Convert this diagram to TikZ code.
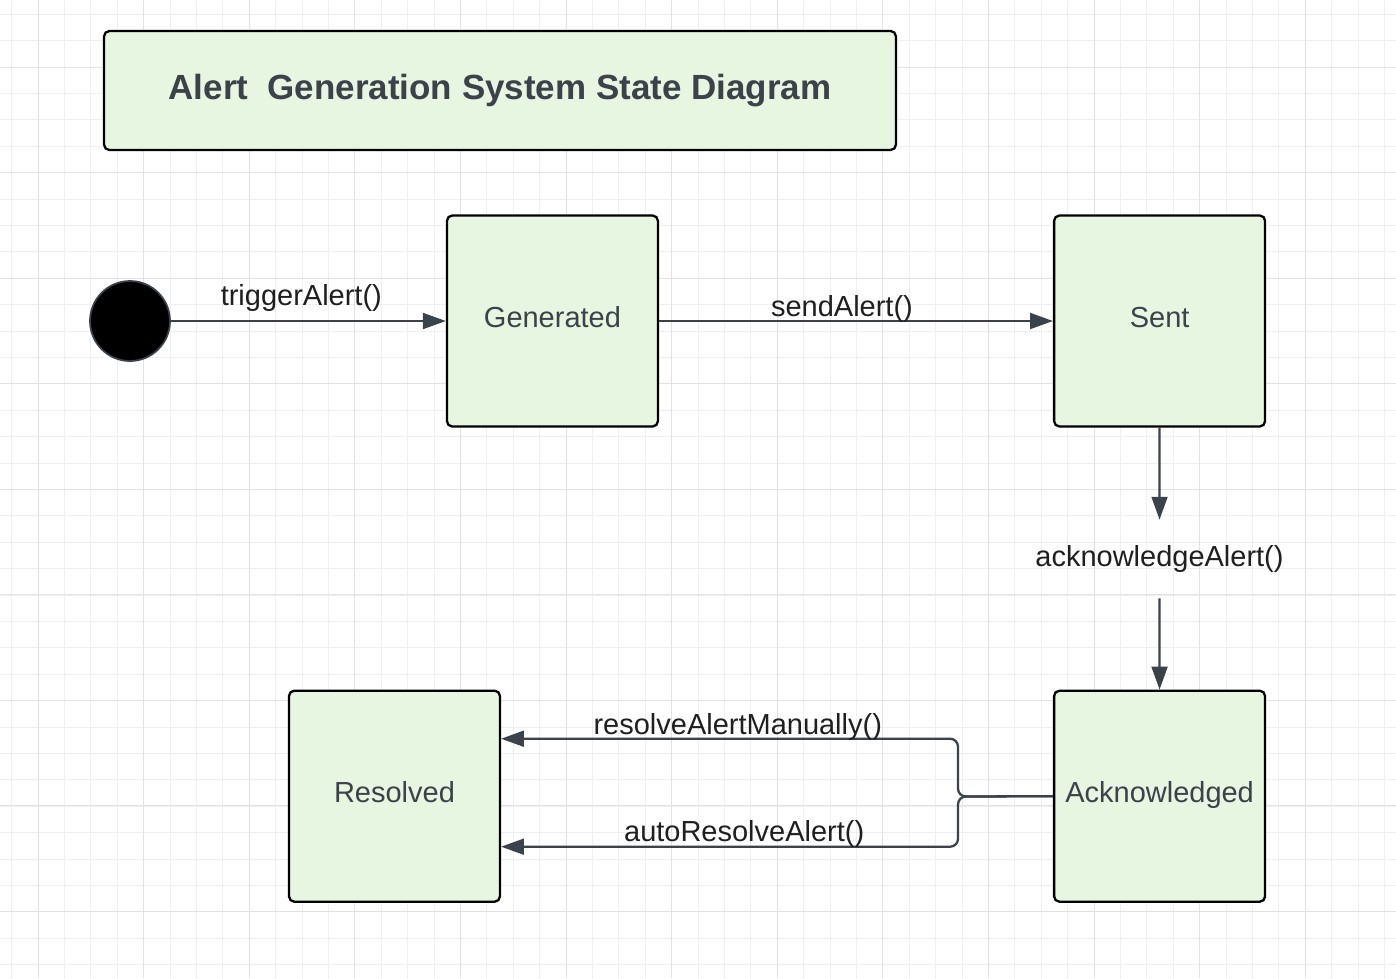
\documentclass[tikz,border=0pt]{standalone}
\usepackage{fontspec}
\setmainfont{Liberation Sans}
\usepackage{tikz}
\usetikzlibrary{arrows.meta, positioning, calc}
\definecolor{stategreen}{HTML}{E6F6E1}
\definecolor{inkgray}{HTML}{3C4249}
\definecolor{gridminor}{HTML}{EFEFEF}
\definecolor{gridmajor}{HTML}{E2E2E2}

\begin{document}
\begin{tikzpicture}[x=0.02cm, y=-0.02cm,
        state/.style={draw=black, line width=1.3pt, fill=stategreen, rounded corners=3pt,
            minimum width=4.22cm, minimum height=4.22cm, inner sep=0pt, text=inkgray,
            text height=12pt, text depth=5pt, font=\fontsize{16.5}{19}\selectfont},
        flow/.style={draw=inkgray, line width=1.3pt, -{Triangle[length=13pt,width=9pt]}},
        lbl/.style={text=black!88, inner sep=0pt, font=\fontsize{16.5}{19}\selectfont}]
    \useasboundingbox (0,0) rectangle (1396,978);
    \fill[white] (0,0) rectangle (1396,978);
    % grid
    \foreach \gx in {0,...,52}
        \draw[gridminor, line width=0.45pt] ({11.6+\gx*26.4},0) -- ++(0,978);
    \foreach \gy in {0,...,36}
        \draw[gridminor, line width=0.45pt] (0,{14.2+\gy*26.4}) -- ++(1396,0);
    \foreach \gx in {0,...,13}
        \draw[gridmajor, line width=0.55pt] ({38+\gx*105.6},0) -- ++(0,978);
    \foreach \gy in {0,...,8}
        \draw[gridmajor, line width=0.55pt] (0,{67+\gy*105.5}) -- ++(1396,0);

    \node[draw=black, line width=1.3pt, fill=stategreen, rounded corners=3pt,
        minimum width=15.84cm, minimum height=2.38cm, text=inkgray,
        font=\bfseries\fontsize{19.9}{23}\selectfont] (title) at (500,90.5)
        {Alert\ \ Generation System State Diagram};

    \node[circle, fill=black, draw=inkgray, line width=1pt, minimum size=1.6cm,
        inner sep=0pt] (start) at (130,321) {};
    \node[state, right=5.50cm of start] (generated) {Generated};
    \node[state, right=7.88cm of generated] (sent) {Sent};
    \node[state, below=5.24cm of sent] (ack) {Acknowledged};
    \node[state, left=11.04cm of ack] (resolved) {Resolved};
    \node[lbl, minimum height=1.56cm] (ackLbl) at (1159.5,559) {acknowledgeAlert()};
    \coordinate (fork) at (958,796.5);

    \draw[flow] (start) -- node[lbl, anchor=base, yshift=9pt, xshift=-4pt] {triggerAlert()} (generated);
    \draw[flow] (generated) -- node[lbl, anchor=base, yshift=2.8pt, xshift=-8pt] {sendAlert()} (sent);
    \draw[flow] (sent) -- (ackLbl);
    \draw[flow] (ackLbl) -- (ack);
    \draw[flow, rounded corners=4.5pt] (ack.west) -- (fork)
        |- node[lbl, pos=0.741, anchor=base, yshift=2.3pt] {resolveAlertManually()}
        ([yshift=1.15cm]resolved.east);
    \draw[flow, rounded corners=4.5pt] (ack.west) -- (fork)
        |- node[lbl, pos=0.734, anchor=base, yshift=2.8pt] {autoResolveAlert()}
        ([yshift=-1.01cm]resolved.east);
\end{tikzpicture}
\end{document}
